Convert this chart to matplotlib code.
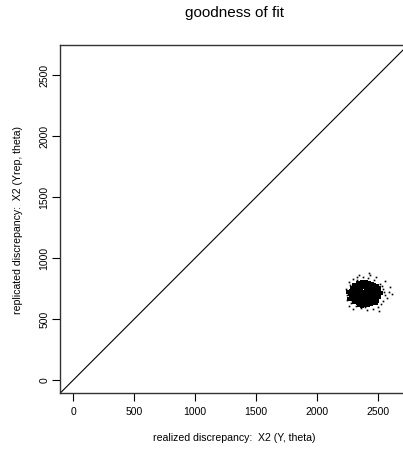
import matplotlib
matplotlib.use("Agg")
import matplotlib.pyplot as plt

plt.rcParams["font.family"] = ["Liberation Sans", "DejaVu Sans"]

# posterior predictive draws: realized vs replicated discrepancy
realized = [
    2340, 2372, 2401, 2428, 2455,
    2305, 2333, 2360, 2388, 2414, 2441, 2470, 2492,
    2288, 2312, 2338, 2366, 2391, 2419, 2447, 2473, 2500, 2515,
    2280, 2305, 2330, 2357, 2383, 2409, 2436, 2462, 2489, 2514,
    2276, 2300, 2327, 2352, 2378, 2404, 2431, 2458, 2484, 2510, 2530,
    2279, 2303, 2329, 2355, 2381, 2407, 2433, 2460, 2486, 2512,
    2290, 2316, 2342, 2367, 2393, 2420, 2446, 2471, 2497,
    2310, 2336, 2362, 2388, 2414, 2440, 2466, 2488,
    2345, 2372, 2398, 2425, 2450,
    2255, 2262, 2270, 2248, 2300, 2330, 2380, 2420, 2470, 2520,
    2545, 2560, 2590, 2548, 2530, 2500, 2460, 2410, 2360, 2320,
    2285, 2265, 2600, 2575, 2440, 2350, 2240, 2510, 2300, 2560,
    2268, 2290, 2535, 2555, 2395, 2335, 2485, 2250, 2615, 2432,
]
replicated = [
    798, 806, 801, 795, 792,
    781, 775, 783, 776, 780, 772, 779, 768,
    757, 750, 759, 752, 761, 748, 756, 751, 745, 758,
    734, 728, 737, 730, 726, 738, 731, 735, 727, 722,
    709, 712, 703, 711, 706, 714, 702, 710, 705, 700, 712,
    686, 680, 688, 681, 690, 683, 679, 687, 682, 678,
    662, 657, 664, 656, 661, 655, 663, 658, 652,
    638, 633, 640, 631, 637, 642, 634, 629,
    616, 610, 618, 612, 620,
    720, 668, 780, 700, 830, 842, 848, 835, 822, 790,
    745, 700, 720, 650, 620, 598, 585, 578, 590, 605,
    630, 610, 760, 675, 862, 865, 745, 570, 580, 810,
    805, 650, 770, 725, 600, 820, 845, 660, 705, 880,
]
n_core = 78  # first draws form the dense centre of the cloud
ticks = [0, 500, 1000, 1500, 2000, 2500]
lims = (-106, 2750)

fig = plt.figure(figsize=(4.03, 4.49), dpi=100)
ax = fig.add_axes([0.1499, 0.1249, 0.8625, 0.7748])

ax.plot(realized[:n_core], replicated[:n_core], linestyle="none", marker="s",
        markersize=3.0, markeredgewidth=0, color="black")
ax.plot(realized[n_core:], replicated[n_core:], linestyle="none", marker="s",
        markersize=1.2, markeredgewidth=0, color="black")
ax.axline((0, 0), slope=1, color="black", linewidth=0.8)

ax.set_xlim(lims)
ax.set_ylim(lims)
ax.set_xticks(ticks)
ax.set_yticks(ticks)
ax.tick_params(direction="out", length=6, width=0.8, labelsize=7.5,
               colors="black")
ax.tick_params(axis="x", pad=4)
ax.tick_params(axis="y", pad=2)
for lab in ax.get_yticklabels():
    lab.set_rotation(90)
    lab.set_va("center")
for sp in ax.spines.values():
    sp.set_linewidth(1.0)
    sp.set_color("#333333")
ax.spines["right"].set_visible(False)

fig.text(234 / 403, 1 - 12.5 / 449, "goodness of fit", fontsize=11,
         ha="center", va="center")
fig.text(234 / 403, 1 - 438 / 449, "realized discrepancy:  X2 (Y, theta)",
         fontsize=7.6, ha="center", va="center")
fig.text(18 / 403, 1 - 220 / 449, "replicated discrepancy:  X2 (Yrep, theta)",
         fontsize=7.6, ha="center", va="center", rotation=90)

fig.savefig("out.png", dpi=100)
